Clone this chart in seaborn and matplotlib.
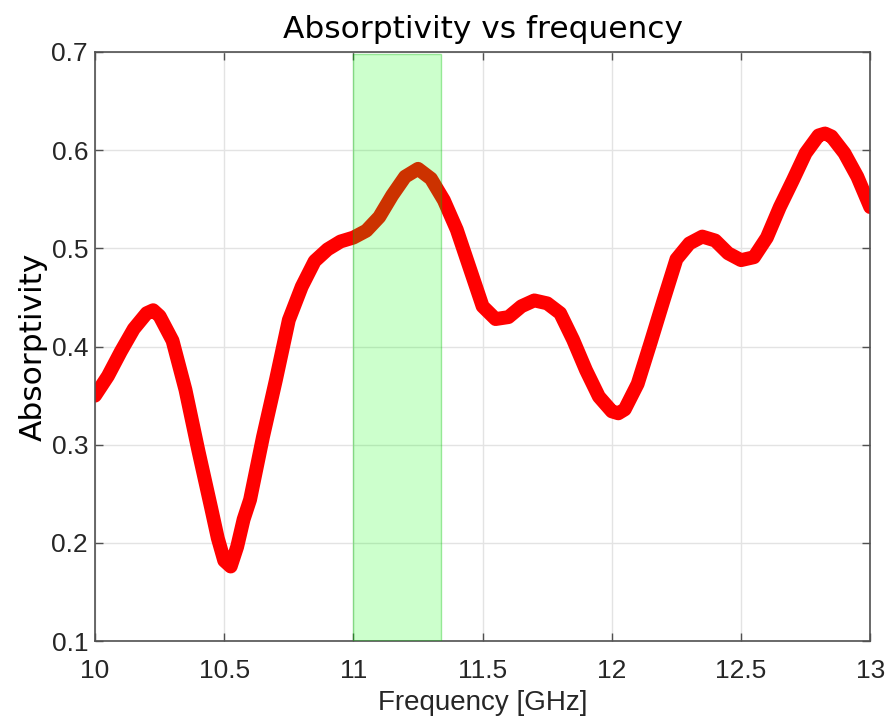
import matplotlib
matplotlib.use("Agg")
import matplotlib.pyplot as plt
import seaborn as sns
import pandas as pd

# Measured absorptivity versus frequency
frequency_ghz = [10.00, 10.05, 10.10, 10.15, 10.20, 10.225, 10.25, 10.30, 10.35, 10.40,
                 10.45, 10.475, 10.50, 10.525, 10.55, 10.575, 10.60, 10.65, 10.70, 10.75,
                 10.80, 10.85, 10.90, 10.95, 11.00, 11.05, 11.10, 11.15, 11.20, 11.25,
                 11.30, 11.35, 11.40, 11.45, 11.50, 11.55, 11.60, 11.65, 11.70, 11.75,
                 11.80, 11.85, 11.90, 11.95, 12.00, 12.025, 12.05, 12.10, 12.15, 12.20,
                 12.25, 12.30, 12.35, 12.40, 12.45, 12.50, 12.55, 12.60, 12.65, 12.70,
                 12.75, 12.80, 12.825, 12.85, 12.90, 12.95, 13.00]
absorptivity = [0.350, 0.370, 0.395, 0.418, 0.434, 0.437, 0.431, 0.406, 0.356, 0.294,
                0.235, 0.205, 0.182, 0.176, 0.196, 0.224, 0.244, 0.308, 0.366, 0.427,
                0.461, 0.487, 0.499, 0.507, 0.511, 0.518, 0.532, 0.554, 0.573, 0.581,
                0.571, 0.549, 0.519, 0.480, 0.441, 0.428, 0.430, 0.441, 0.447, 0.444,
                0.434, 0.407, 0.376, 0.349, 0.334, 0.332, 0.336, 0.362, 0.404, 0.447,
                0.489, 0.505, 0.512, 0.508, 0.495, 0.488, 0.491, 0.511, 0.542, 0.569,
                0.597, 0.615, 0.617, 0.614, 0.597, 0.573, 0.542]

# Highlighted operating band
band_start, band_end = 11.0, 11.34

x_ticks = [10, 10.5, 11, 11.5, 12, 12.5, 13]
x_tick_labels = ["10", "10.5", "11", "11.5", "12", "12.5", "13"]
y_ticks = [0.1, 0.2, 0.3, 0.4, 0.5, 0.6, 0.7]
y_tick_labels = ["0.1", "0.2", "0.3", "0.4", "0.5", "0.6", "0.7"]

df = pd.DataFrame({"Frequency": frequency_ghz, "Absorptivity": absorptivity})

sns.set_theme(style="white")
fig = plt.figure(figsize=(8.88, 7.22), dpi=100)
ax = fig.add_axes([0.107, 0.112, 0.873, 0.816])

sns.lineplot(data=df, x="Frequency", y="Absorptivity", ax=ax, color="#ff0000",
             linewidth=10, solid_capstyle="round", solid_joinstyle="round", zorder=2)

ax.axvspan(band_start, band_end, ymin=0, ymax=0.996, facecolor=(0, 1, 0, 0.2),
           edgecolor=(0, 0.75, 0, 0.35), linewidth=1, zorder=3)

ax.set_xlim(10, 13)
ax.set_ylim(0.1, 0.7)
ax.set_xticks(x_ticks)
ax.set_xticklabels(x_tick_labels)
ax.set_yticks(y_ticks)
ax.set_yticklabels(y_tick_labels)

ax.grid(True, color="#e3e3e3", linewidth=1, zorder=0)
ax.set_axisbelow(True)
for side in ["left", "right", "top", "bottom"]:
    ax.spines[side].set_visible(True)
    ax.spines[side].set_color("#505050")
    ax.spines[side].set_linewidth(1.2)

ax.tick_params(axis="both", which="major", direction="in", length=6, width=1,
               color="#505050", labelsize=19, labelcolor="#262626",
               top=True, right=True, bottom=True, left=True)
ax.tick_params(axis="x", pad=13)
ax.tick_params(axis="y", pad=5)
for lbl in ax.get_xticklabels() + ax.get_yticklabels():
    lbl.set_family("Liberation Sans")

ax.set_xlabel("Frequency [GHz]", family="Liberation Sans", fontsize=20,
              color="#262626", labelpad=5)
ax.set_ylabel("Absorptivity", family="DejaVu Sans", fontsize=22.5,
              color="black", labelpad=3)
ax.set_title("Absorptivity vs frequency", family="DejaVu Sans", fontsize=22.5,
             color="black", pad=10)

fig.savefig("out.png", dpi=100)
